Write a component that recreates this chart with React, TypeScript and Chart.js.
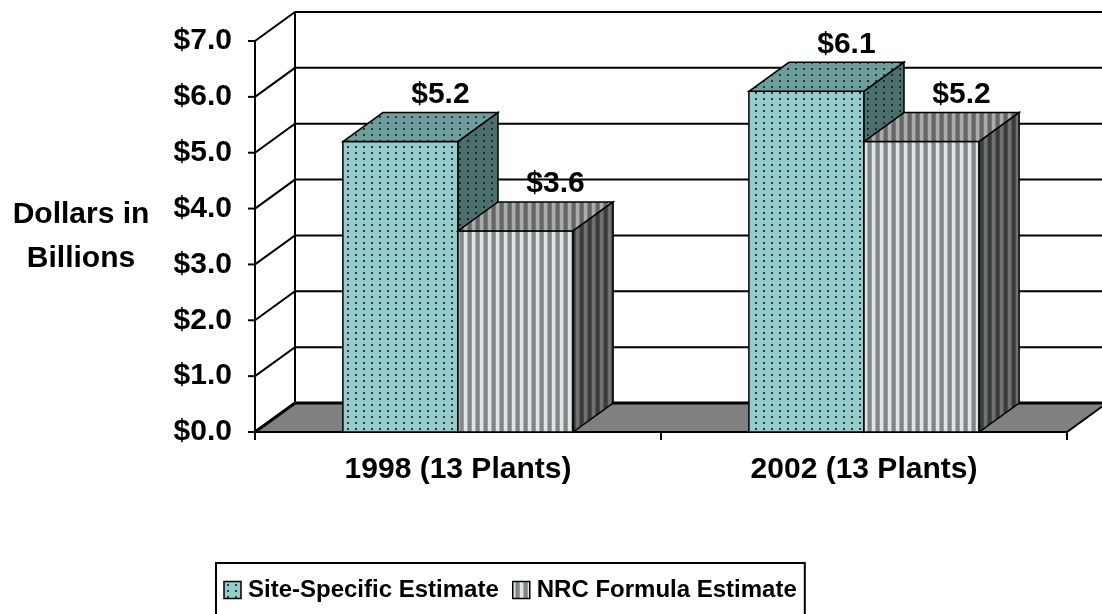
import React, { useEffect, useRef } from 'react';
import { Chart, registerables } from 'chart.js';

Chart.register(...registerables);

const categories = ['1998 (13 Plants)', '2002 (13 Plants)'];
const siteSpecific = [5.2, 6.1];
const nrcFormula = [3.6, 5.2];
const seriesNames = ['Site-Specific Estimate', 'NRC Formula Estimate'];
const yTitle = ['Dollars in', 'Billions'];
const yMin = 0;
const yMax = 7;
const yStep = 1;

const FONT = '"Liberation Sans", Arial, Helvetica, sans-serif';
const DX = 40;
const DY = -29;
const LEGEND_CENTER_X = 510;

type Pats = Record<string, CanvasPattern | string>;

function dotPattern(ctx: CanvasRenderingContext2D, base: string, dot: string): CanvasPattern | string {
  const c = document.createElement('canvas');
  c.width = 8;
  c.height = 6;
  const g = c.getContext('2d')!;
  g.fillStyle = base;
  g.fillRect(0, 0, 8, 6);
  g.fillStyle = dot;
  g.fillRect(3, 2, 2, 2);
  return ctx.createPattern(c, 'repeat') || base;
}

function stripePattern(ctx: CanvasRenderingContext2D, cols: string[]): CanvasPattern | string {
  const c = document.createElement('canvas');
  c.width = cols.length;
  c.height = 4;
  const g = c.getContext('2d')!;
  cols.forEach((col, i) => {
    g.fillStyle = col;
    g.fillRect(i, 0, 1, 4);
  });
  return ctx.createPattern(c, 'repeat') || cols[0];
}

export default function App() {
  const ref = useRef<HTMLCanvasElement | null>(null);

  useEffect(() => {
    document.body.style.margin = '0';
    const canvas = ref.current!;
    const ctx0 = canvas.getContext('2d')!;
    const pats: Pats = {
      siteFront: dotPattern(ctx0, '#96CCCB', '#2b3f3f'),
      siteTop: dotPattern(ctx0, '#6E9E9B', '#263a3a'),
      siteSide: dotPattern(ctx0, '#4C6E6C', '#1c2b2b'),
      nrcFront: stripePattern(ctx0, ['#DCE8E8', '#DCE8E8', '#DCE8E8', '#A9B0B0', '#868686', '#868686', '#868686', '#9a9e9e']),
      nrcTop: stripePattern(ctx0, ['#A8ADAD', '#A8ADAD', '#A8ADAD', '#858888', '#666666', '#666666', '#666666', '#777a7a']),
      nrcSide: stripePattern(ctx0, ['#6e7272', '#6e7272', '#6e7272', '#555858', '#3c3c3c', '#3c3c3c', '#3c3c3c', '#4a4a4a']),
    };
    const faceSets = [
      { front: pats.siteFront, top: pats.siteTop, side: pats.siteSide },
      { front: pats.nrcFront, top: pats.nrcTop, side: pats.nrcSide },
    ];

    const threeD = {
      id: 'threeD',
      beforeDatasetsDraw(chart: any) {
        const { ctx, chartArea } = chart;
        const ys = chart.scales.y;
        const L = chartArea.left;
        const R = chartArea.right;
        const B = chartArea.bottom;
        const T = chartArea.top;
        ctx.save();
        ctx.beginPath();
        ctx.moveTo(L, B);
        ctx.lineTo(L + DX, B + DY);
        ctx.lineTo(R + DX, B + DY);
        ctx.lineTo(R, B);
        ctx.closePath();
        ctx.fillStyle = '#808080';
        ctx.fill();
        ctx.strokeStyle = '#000';
        ctx.lineWidth = 2;
        ctx.stroke();
        for (let v = yMin; v <= yMax; v += yStep) {
          const y = ys.getPixelForValue(v);
          ctx.lineWidth = v === yMin ? 3 : 2;
          ctx.beginPath();
          ctx.moveTo(L, y);
          ctx.lineTo(L + DX, y + DY);
          ctx.lineTo(R + DX, y + DY);
          ctx.stroke();
          ctx.lineWidth = 2;
          ctx.beginPath();
          ctx.moveTo(L - 7, y);
          ctx.lineTo(L, y);
          ctx.stroke();
        }
        ctx.lineWidth = 2;
        ctx.beginPath();
        ctx.moveTo(L + DX, B + DY);
        ctx.lineTo(L + DX, T + DY);
        ctx.stroke();
        ctx.beginPath();
        ctx.moveTo(L, B);
        ctx.lineTo(L, T);
        ctx.stroke();
        ctx.beginPath();
        ctx.moveTo(L, B);
        ctx.lineTo(R, B);
        ctx.stroke();
        const xs = chart.scales.x;
        const n = categories.length;
        const step = (R - L) / n;
        for (let i = 0; i <= n; i++) {
          const x = i < n ? xs.getPixelForValue(i) - step / 2 : xs.getPixelForValue(n - 1) + step / 2;
          ctx.beginPath();
          ctx.moveTo(x, B);
          ctx.lineTo(x, B + 8);
          ctx.stroke();
        }
        ctx.restore();
      },
      afterDatasetsDraw(chart: any) {
        const { ctx } = chart;
        ctx.save();
        ctx.strokeStyle = '#000';
        ctx.lineWidth = 1.5;
        ctx.lineJoin = 'miter';
        const metas = chart.data.datasets.map((_: any, i: number) => chart.getDatasetMeta(i));
        const labels: { x: number; y: number; t: string }[] = [];
        for (let c = 0; c < categories.length; c++) {
          metas.forEach((meta: any, di: number) => {
            const el = meta.data[c];
            const p = el.getProps(['x', 'y', 'base', 'width'], true);
            const x0 = p.x - p.width / 2;
            const x1 = p.x + p.width / 2;
            const yt = p.y;
            const yb = p.base;
            const f = faceSets[di];
            ctx.fillStyle = f.front;
            ctx.fillRect(x0, yt, x1 - x0, yb - yt);
            ctx.strokeRect(x0, yt, x1 - x0, yb - yt);
            ctx.beginPath();
            ctx.moveTo(x0, yt);
            ctx.lineTo(x0 + DX, yt + DY);
            ctx.lineTo(x1 + DX, yt + DY);
            ctx.lineTo(x1, yt);
            ctx.closePath();
            ctx.fillStyle = f.top;
            ctx.fill();
            ctx.stroke();
            ctx.beginPath();
            ctx.moveTo(x1, yt);
            ctx.lineTo(x1 + DX, yt + DY);
            ctx.lineTo(x1 + DX, yb + DY);
            ctx.lineTo(x1, yb);
            ctx.closePath();
            ctx.fillStyle = f.side;
            ctx.fill();
            ctx.stroke();
            const v = chart.data.datasets[di].data[c];
            labels.push({ x: p.x + DX, y: yt + DY - 18, t: '$' + Number(v).toFixed(1) });
          });
        }
        ctx.fillStyle = '#000';
        ctx.font = `bold 30px ${FONT}`;
        ctx.textAlign = 'center';
        ctx.textBaseline = 'middle';
        labels.forEach((l) => ctx.fillText(l.t, l.x, l.y));
        ctx.restore();
      },
      afterDraw(chart: any) {
        const { ctx } = chart;
        ctx.save();
        ctx.fillStyle = '#000';
        ctx.font = `bold 30px ${FONT}`;
        ctx.textAlign = 'center';
        ctx.textBaseline = 'middle';
        ctx.fillText(yTitle[0], 81, 215);
        ctx.fillText(yTitle[1], 81, 259);
        ctx.font = `bold 24px ${FONT}`;
        const marker = 17;
        const gap = 7;
        const itemGap = 14;
        const pad = 8;
        const widths = seriesNames.map((s) => ctx.measureText(s).width);
        const total = pad * 2 + widths.reduce((s, w) => s + marker + gap + w, 0) + itemGap * (seriesNames.length - 1);
        const left = Math.round(LEGEND_CENTER_X - total / 2);
        const top = 563;
        const h = 52;
        ctx.lineWidth = 2;
        ctx.strokeStyle = '#000';
        ctx.strokeRect(left, top, total, h);
        let x = left + pad;
        const cy = top + 27;
        ctx.textAlign = 'left';
        seriesNames.forEach((s, i) => {
          ctx.fillStyle = faceSets[i].front;
          ctx.fillRect(x, cy - marker / 2, marker, marker);
          ctx.lineWidth = 1.5;
          ctx.strokeRect(x, cy - marker / 2, marker, marker);
          x += marker + gap;
          ctx.fillStyle = '#000';
          ctx.fillText(s, x, cy);
          x += widths[i] + itemGap;
        });
        ctx.restore();
      },
    };

    const chart = new Chart(canvas, {
      type: 'bar',
      data: {
        labels: categories,
        datasets: [
          { label: seriesNames[0], data: siteSpecific, backgroundColor: 'rgba(0,0,0,0)', borderWidth: 0 },
          { label: seriesNames[1], data: nrcFormula, backgroundColor: 'rgba(0,0,0,0)', borderWidth: 0 },
        ],
      },
      options: {
        responsive: false,
        animation: false,
        events: [],
        layout: { padding: { left: 0, right: 35, top: 35, bottom: 0 } },
        datasets: { bar: { categoryPercentage: 0.567, barPercentage: 1.0 } },
        plugins: { legend: { display: false }, tooltip: { enabled: false }, title: { display: false } },
        scales: {
          x: {
            grid: { display: false, drawTicks: false },
            border: { display: false },
            ticks: { color: '#000', font: { family: FONT, size: 30, weight: 'bold' }, padding: 20, maxRotation: 0 },
            afterFit(scale: any) {
              scale.height = 182;
            },
          },
          y: {
            min: yMin,
            max: yMax,
            grid: { display: false, drawTicks: false },
            border: { display: false },
            ticks: {
              stepSize: yStep,
              color: '#000',
              padding: 23,
              font: { family: FONT, size: 30, weight: 'bold' },
              callback: (v: any) => '$' + Number(v).toFixed(1),
            },
            afterFit(scale: any) {
              scale.width = 255;
            },
          },
        },
      },
      plugins: [threeD],
    } as any);
    return () => chart.destroy();
  }, []);

  return <canvas ref={ref} width={1102} height={614} style={{ display: 'block' }} />;
}
